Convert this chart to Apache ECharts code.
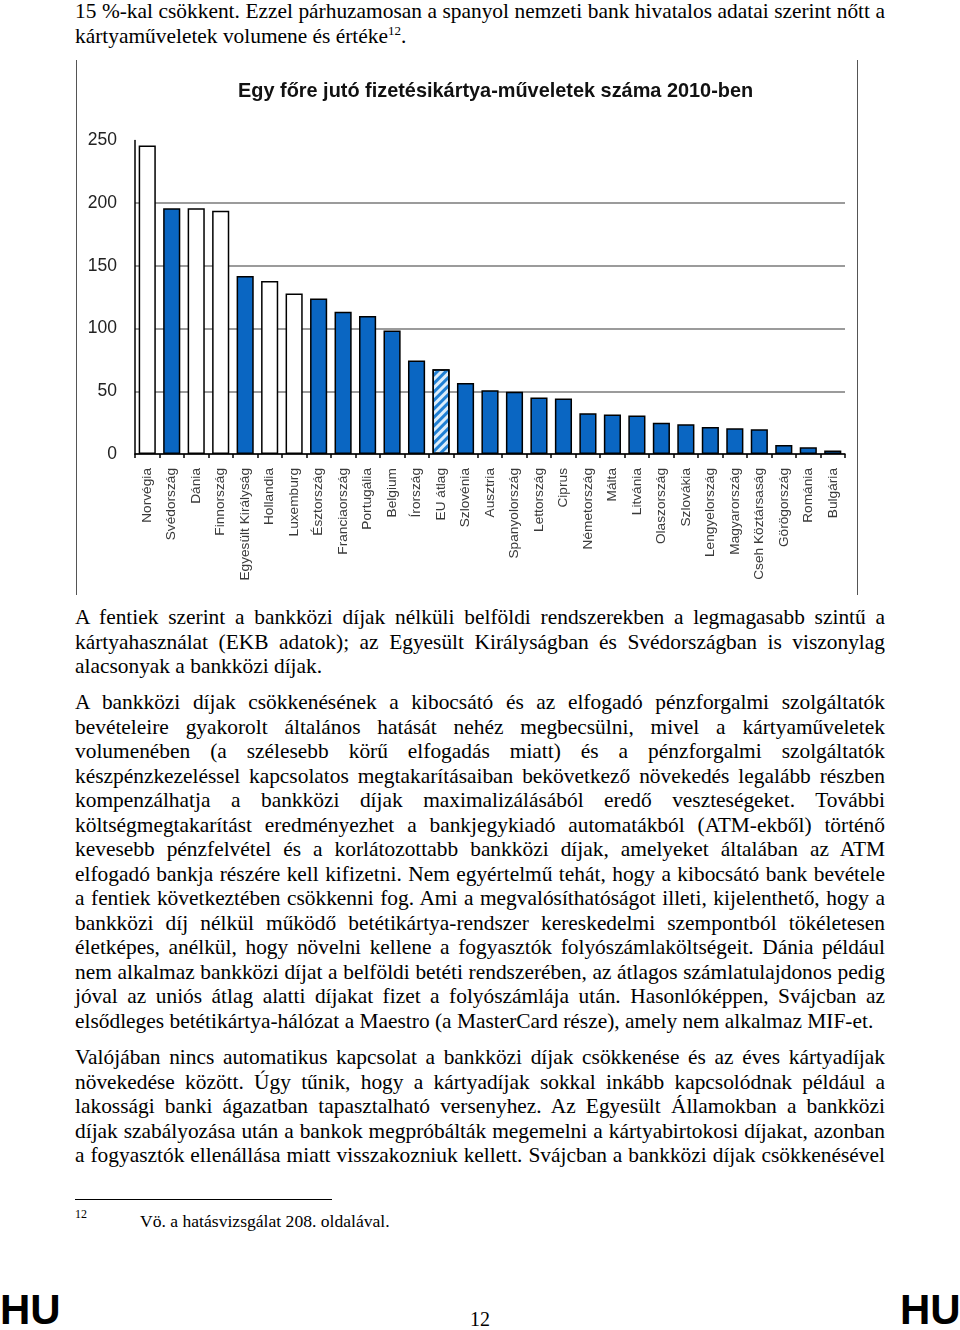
<!DOCTYPE html>
<html>
<head>
<meta charset="utf-8">
<script src="https://cdn.jsdelivr.net/npm/echarts@6/dist/echarts.min.js"></script>
<style>
  html, body { margin: 0; padding: 0; background: #fff; }
  body { position: relative; width: 960px; height: 1330px; overflow: hidden; }
  .ln { position: absolute; left: 75px; width: 810px; font-family: "Liberation Serif", "Times New Roman", serif; font-size: 21.4px; line-height: 24.5px; color: #000; text-align: justify; text-align-last: justify; white-space: normal; }
  .ln.last { text-align: left; text-align-last: left; }
  sup { font-size: 13px; line-height: 0; vertical-align: 8px; }
  #chart { position: absolute; left: 0; top: 60px; width: 960px; height: 535px; }
  .vline { position: absolute; top: 60px; height: 535px; width: 1px; background: #555; }
  .frule { position: absolute; left: 75px; top: 1199px; width: 257px; height: 1px; background: #000; }
  .fn { position: absolute; font-family: "Liberation Serif", serif; color: #000; }
  .hu { position: absolute; top: 1286px; font-family: "Liberation Sans", Arial, sans-serif; font-weight: bold; font-size: 42px; line-height: 48px; color: #000; }
</style>
</head>
<body>
<div id="text"></div>
<div class="vline" style="left:76px"></div>
<div class="vline" style="left:857px"></div>
<div id="chart"></div>
<div class="frule"></div>
<div class="fn" style="left:75px; top:1207px; font-size:12px;">12</div>
<div class="fn" style="left:140px; top:1209px; font-size:17.6px; line-height:24px;">Vö. a hatásvizsgálat 208. oldalával.</div>
<div class="hu" style="left:0px;">HU</div>
<div class="hu" style="left:900px;">HU</div>
<div class="fn" style="left:460px; width:40px; text-align:center; top:1306px; font-size:20px; line-height:26px;">12</div>
<script>
// ---- page text ----
const para1 = [
  "15 %-kal csökkent. Ezzel párhuzamosan a spanyol nemzeti bank hivatalos adatai szerint nőtt a",
  "kártyaműveletek volumene és értéke<sup>12</sup>."
];
const para2 = [
  "A fentiek szerint a bankközi díjak nélküli belföldi rendszerekben a legmagasabb szintű a",
  "kártyahasználat (EKB adatok); az Egyesült Királyságban és Svédországban is viszonylag",
  "alacsonyak a bankközi díjak."
];
const para3 = [
  "A bankközi díjak csökkenésének a kibocsátó és az elfogadó pénzforgalmi szolgáltatók",
  "bevételeire gyakorolt általános hatását nehéz megbecsülni, mivel a kártyaműveletek",
  "volumenében (a szélesebb körű elfogadás miatt) és a pénzforgalmi szolgáltatók",
  "készpénzkezeléssel kapcsolatos megtakarításaiban bekövetkező növekedés legalább részben",
  "kompenzálhatja a bankközi díjak maximalizálásából eredő veszteségeket. További",
  "költségmegtakarítást eredményezhet a bankjegykiadó automatákból (ATM-ekből) történő",
  "kevesebb pénzfelvétel és a korlátozottabb bankközi díjak, amelyeket általában az ATM",
  "elfogadó bankja részére kell kifizetni. Nem egyértelmű tehát, hogy a kibocsátó bank bevétele",
  "a fentiek következtében csökkenni fog. Ami a megvalósíthatóságot illeti, kijelenthető, hogy a",
  "bankközi díj nélkül működő betétikártya-rendszer kereskedelmi szempontból tökéletesen",
  "életképes, anélkül, hogy növelni kellene a fogyasztók folyószámlaköltségeit. Dánia például",
  "nem alkalmaz bankközi díjat a belföldi betéti rendszerében, az átlagos számlatulajdonos pedig",
  "jóval az uniós átlag alatti díjakat fizet a folyószámlája után. Hasonlóképpen, Svájcban az",
  "elsődleges betétikártya-hálózat a Maestro (a MasterCard része), amely nem alkalmaz MIF-et."
];
const para4 = [
  "Valójában nincs automatikus kapcsolat a bankközi díjak csökkenése és az éves kártyadíjak",
  "növekedése között. Úgy tűnik, hogy a kártyadíjak sokkal inkább kapcsolódnak például a",
  "lakossági banki ágazatban tapasztalható versenyhez. Az Egyesült Államokban a bankközi",
  "díjak szabályozása után a bankok megpróbálták megemelni a kártyabirtokosi díjakat, azonban",
  "a fogyasztók ellenállása miatt visszakozniuk kellett. Svájcban a bankközi díjak csökkenésével"
];
const LH = 24.54;
function place(lines, firstCenter, lastJustified) {
  const host = document.getElementById('text');
  lines.forEach((t, i) => {
    const d = document.createElement('div');
    d.className = 'ln' + ((i === lines.length - 1 && !lastJustified) ? ' last' : '');
    d.style.top = (firstCenter - 13 + i * LH) + 'px';
    d.innerHTML = t;
    host.appendChild(d);
    // keep each line on one row: shrink word spacing if it would wrap
    let ws = 0;
    while (d.offsetHeight > 30 && ws > -6) { ws -= 0.25; d.style.wordSpacing = ws + 'px'; }
  });
}
place(para1, 12, false);
place(para2, 618, false);
place(para3, 703, false);
place(para4, 1058, true);

// ---- chart data ----
const chartTitle = "Egy főre jutó fizetésikártya-műveletek száma 2010-ben";
const countries = ["Norvégia","Svédország","Dánia","Finnország","Egyesült Királyság","Hollandia","Luxemburg","Észtország","Franciaország","Portugália","Belgium","Írország","EU átlag","Szlovénia","Ausztria","Spanyolország","Lettország","Ciprus","Németország","Málta","Litvánia","Olaszország","Szlovákia","Lengyelország","Magyarország","Cseh Köztársaság","Görögország","Románia","Bulgária"];
const values = [246,196,196,194,142,138,128,124,113.5,110,98.5,74.5,67.5,56.7,50.9,49.6,45,44.3,32.5,31.5,30.7,25,23.7,21.6,20.5,19.7,7.2,5.3,2.7];
// bar kind: 'w' = white, 'b' = blue, 'a' = EU average (hatched)
const barKind = ["w","b","w","w","b","w","w","b","b","b","b","b","a","b","b","b","b","b","b","b","b","b","b","b","b","b","b","b","b"];
const yTicks = [0, 50, 100, 150, 200, 250];

const BLUE = '#0a66c2';
const styleFor = {
  w: { color: '#ffffff', borderColor: '#000', borderWidth: 1.5 },
  b: { color: BLUE, borderColor: '#000', borderWidth: 1.5 },
  a: { color: '#dcedfa', borderColor: '#000', borderWidth: 1.5,
       decal: { symbol: 'rect', symbolSize: 1, color: '#1f7fd3', dashArrayX: [1, 0], dashArrayY: [2.5, 2.5], rotation: -Math.PI / 4 } }
};

const chart = echarts.init(document.getElementById('chart'), null, { renderer: 'canvas' });
chart.setOption({
  animation: false,
  title: {
    text: chartTitle, left: 233, top: 17,
    textStyle: { fontFamily: 'Liberation Sans, Arial, sans-serif', fontSize: 19.9, fontWeight: 'bold', color: '#111' }
  },
  grid: { left: 135, right: 115, top: 80.5, bottom: 141, containLabel: false },
  xAxis: {
    type: 'category', data: countries,
    axisLine: { show: true, lineStyle: { color: '#000', width: 1.5 } },
    axisTick: { show: true, length: 4, lineStyle: { color: '#000', width: 1.5 } },
    axisLabel: { rotate: 90, interval: 0, margin: 14, fontSize: 13.7, color: '#3a3a3a', fontFamily: 'Liberation Sans, Arial, sans-serif' }
  },
  yAxis: {
    type: 'value', min: yTicks[0], max: yTicks[yTicks.length - 1], interval: yTicks[1] - yTicks[0],
    axisLine: { show: true, lineStyle: { color: '#000', width: 1.5 } },
    axisTick: { show: false },
    axisLabel: { margin: 18, fontSize: 17.5, color: '#222', fontFamily: 'Liberation Sans, Arial, sans-serif' },
    splitLine: { show: true, lineStyle: { color: ['#7a7a7a','#7a7a7a','#7a7a7a','#7a7a7a','#7a7a7a','rgba(0,0,0,0)'], width: 1.5 } }
  },
  series: [{
    type: 'bar', barWidth: '70%',
    data: values.map((v, i) => ({ value: v, itemStyle: styleFor[barKind[i]] }))
  }]
});
</script>
</body>
</html>
